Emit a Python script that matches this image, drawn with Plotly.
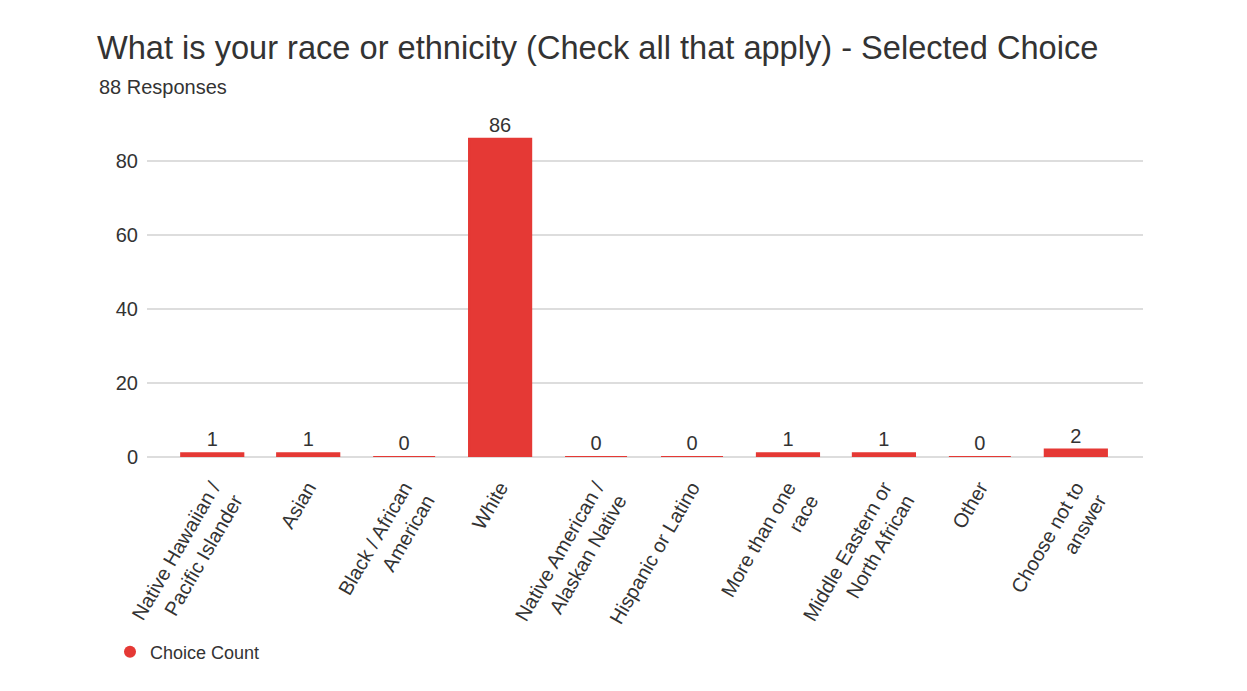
import plotly.graph_objects as go

categories = [
    "Native Hawaiian /<br>Pacific Islander",
    "Asian",
    "Black / African<br>American",
    "White",
    "Native American /<br>Alaskan Native",
    "Hispanic or Latino",
    "More than one<br>race",
    "Middle Eastern or<br>North African",
    "Other",
    "Choose not to<br>answer",
]
counts = [1, 1, 0, 86, 0, 0, 1, 1, 0, 2]
series_name = "Choice Count"
title_text = "What is your race or ethnicity (Check all that apply) - Selected Choice"
subtitle_text = "88 Responses"
y_ticks = [0, 20, 40, 60, 80]

RED = "#e53935"
TEXT = "#333333"
FONT = "Liberation Sans, Arial, sans-serif"

fig = go.Figure()
fig.add_trace(go.Bar(
    x=list(range(len(categories))),
    y=counts,
    text=[str(v) for v in counts],
    textposition="outside",
    textfont=dict(size=20, color=TEXT, family=FONT),
    cliponaxis=False,
    marker=dict(color=RED, line=dict(color=RED, width=2.2)),
    showlegend=False,
    name=series_name,
))
fig.add_trace(go.Scatter(
    x=[None], y=[None], mode="markers",
    marker=dict(color=RED, size=16, symbol="circle"),
    name=series_name, showlegend=True,
))

fig.update_layout(
    width=1247, height=691,
    paper_bgcolor="white", plot_bgcolor="white",
    font=dict(family=FONT, color=TEXT, size=18),
    margin=dict(l=139, r=112, t=116, b=242, autoexpand=False),
    bargap=0.354,
    title=dict(
        text=title_text,
        font=dict(size=32.6, color=TEXT, family=FONT),
        x=89 / 1247, xanchor="left", xref="container",
        y=1 - 28 / 691, yanchor="top", yref="container",
    ),
    annotations=[dict(
        text=subtitle_text,
        xref="paper", yref="paper",
        x=(97 - 147) / 996, xanchor="left",
        y=1 + 37 / 333, yanchor="middle",
        showarrow=False,
        font=dict(size=20, color=TEXT, family=FONT),
    )],
    xaxis=dict(
        tickmode="array",
        tickvals=list(range(len(categories))),
        ticktext=categories,
        tickangle=-60,
        range=[-0.68, 9.7],
        showgrid=False, zeroline=False, showline=False,
        ticks="", ticklabelstandoff=14, automargin=False,
        tickfont=dict(size=20, color=TEXT, family=FONT),
    ),
    yaxis=dict(
        range=[0, 90],
        tickvals=y_ticks,
        showgrid=True, gridcolor="#dddddd", gridwidth=2,
        zeroline=True, zerolinecolor="#dddddd", zerolinewidth=2,
        ticks="", ticklabelstandoff=8, automargin=False,
        tickfont=dict(size=20, color=TEXT, family=FONT),
    ),
    legend=dict(
        orientation="h",
        x=102 / 1247, xanchor="left", xref="container",
        y=1 - 644 / 691, yanchor="middle", yref="container",
        font=dict(size=18, color=TEXT, family=FONT),
        itemsizing="constant",
    ),
)

fig.write_html("out.html")
